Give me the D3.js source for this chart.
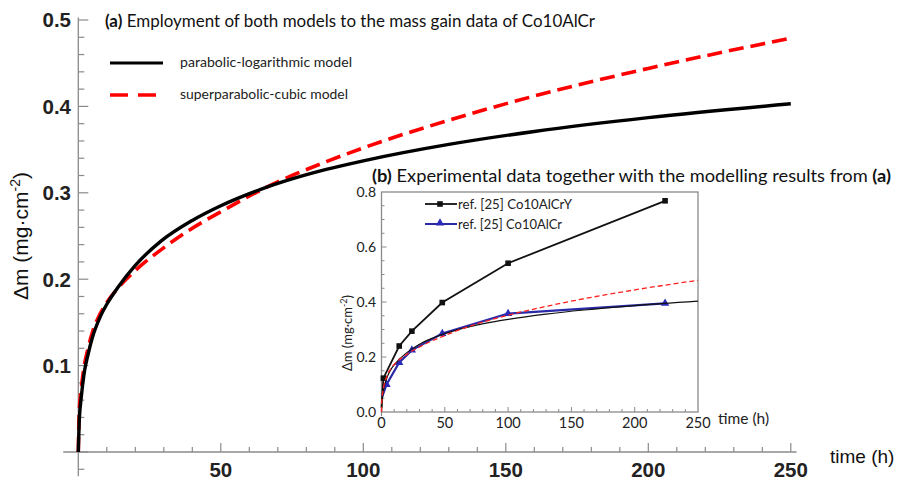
<!DOCTYPE html>
<html><head><meta charset="utf-8">
<script src="https://cdn.jsdelivr.net/npm/d3@7"></script>
<style>body{margin:0;background:#fff}svg{display:block}</style>
</head><body>
<script>
// ---- data ----
const modelT = [0, 0.3, 1, 2, 3.5, 5, 7.5, 10, 14, 20, 29, 40, 50, 64, 75, 87, 100, 130, 160, 200, 250];
const parabolicLog = [0, 0.033, 0.062, 0.090, 0.114, 0.133, 0.155, 0.171, 0.191, 0.216, 0.244, 0.268, 0.285, 0.304, 0.316, 0.327, 0.337, 0.356, 0.371, 0.387, 0.403];
const superparabolicCubic = [0, 0.045, 0.072, 0.098, 0.121, 0.139, 0.159, 0.173, 0.190, 0.210, 0.234, 0.259, 0.278, 0.303, 0.320, 0.336, 0.352, 0.384, 0.412, 0.444, 0.479];
const expYT = [0, 1.5, 14, 24, 48, 100, 224];
const expYV = [0.015, 0.123, 0.24, 0.294, 0.398, 0.541, 0.768];
const expT = [0.5, 4, 14, 24, 48, 100, 224];
const expV = [0.055, 0.10, 0.18, 0.225, 0.285, 0.358, 0.395];
const mainXTicks = [50, 100, 150, 200, 250];
const mainYTicks = [0.1, 0.2, 0.3, 0.4, 0.5];
const insetXTicks = [0, 50, 100, 150, 200, 250];
const insetYTicks = [0.0, 0.2, 0.4, 0.6, 0.8];

const W = 897, H = 480;
const svg = d3.select("body").append("svg").attr("width", W).attr("height", H);
svg.append("rect").attr("width", W).attr("height", H).attr("fill", "#fff");

const axisCol = "#8a8a8a";
const sans = "'Liberation Sans', Arial, sans-serif";
const cal = "Lato, 'Open Sans', sans-serif";

// ---- main scales ----
const x = d3.scaleLinear().domain([0, 250]).range([78.3, 790.8]);
const y = d3.scaleLinear().domain([0, 0.5]).range([452, 20]);

const gAx = svg.append("g");
gAx.append("line").attr("x1", x(-5.3)).attr("x2", x(252)).attr("y1", y(0)).attr("y2", y(0))
  .attr("stroke", axisCol).attr("stroke-width", 1.3);
gAx.append("line").attr("x1", x(0)).attr("x2", x(0)).attr("y1", y(-0.028)).attr("y2", y(0.503))
  .attr("stroke", axisCol).attr("stroke-width", 1.3);
d3.range(10, 251, 10).forEach(t => {
  const major = t % 50 === 0;
  gAx.append("line").attr("x1", x(t)).attr("x2", x(t)).attr("y1", y(0)).attr("y2", y(0) - (major ? 9 : 5))
    .attr("stroke", axisCol).attr("stroke-width", 1.2);
});
d3.range(-0.02, 0.5001, 0.02).forEach(v => {
  const major = Math.abs(Math.round(v * 10) - v * 10) < 1e-6;
  gAx.append("line").attr("x1", x(0)).attr("x2", x(0) + (major ? 10 : 6)).attr("y1", y(v)).attr("y2", y(v))
    .attr("stroke", axisCol).attr("stroke-width", 1.2);
});
gAx.selectAll(".xl").data(mainXTicks).join("text")
  .attr("x", d => x(d)).attr("y", 477).attr("text-anchor", "middle")
  .attr("font-family", sans).attr("font-weight", "bold").attr("font-size", 20.5).attr("fill", "#222")
  .text(d => d);
gAx.selectAll(".yl").data(mainYTicks).join("text")
  .attr("x", 71).attr("y", d => y(d)).attr("dy", "0.36em").attr("text-anchor", "end")
  .attr("font-family", sans).attr("font-weight", "bold").attr("font-size", 20.5).attr("fill", "#222")
  .text(d => d3.format(".1f")(d));
svg.append("text").attr("x", 830).attr("y", 463).attr("font-family", sans).attr("font-size", 19).attr("fill", "#111")
  .text("time (h)");
const yl = svg.append("text").attr("transform", "translate(28,236) rotate(-90)").attr("text-anchor", "middle")
  .attr("font-family", sans).attr("font-size", 21).attr("fill", "#111");
yl.append("tspan").text("Δm (mg·cm");
yl.append("tspan").attr("dy", -8).attr("font-size", 14).text("-2");
yl.append("tspan").attr("dy", 8).text(")");

// main curves
const mainLine = d3.line().x(d => x(d[0])).y(d => y(d[1])).curve(d3.curveMonotoneX);
const plData = modelT.map((t, i) => [t, parabolicLog[i]]);
const spData = modelT.map((t, i) => [t, superparabolicCubic[i]]);
svg.append("path").attr("d", mainLine(spData)).attr("fill", "none").attr("stroke", "#ff0000")
  .attr("stroke-width", 3.6).attr("stroke-dasharray", "15,7");
svg.append("path").attr("d", mainLine(plData)).attr("fill", "none").attr("stroke", "#000")
  .attr("stroke-width", 3.4);

// title (a)
const ta = svg.append("text").attr("x", 105).attr("y", 27).attr("font-family", cal).attr("font-size", 17)
  .attr("fill", "#111").attr("textLength", 490).attr("lengthAdjust", "spacingAndGlyphs");
ta.append("tspan").attr("font-weight", "bold").text("(a)");
ta.append("tspan").text(" Employment of both models to the mass gain data of Co10AlCr");

// legend (a)
svg.append("line").attr("x1", 110).attr("x2", 163).attr("y1", 63).attr("y2", 63).attr("stroke", "#000").attr("stroke-width", 3);
svg.append("line").attr("x1", 110).attr("x2", 166).attr("y1", 95).attr("y2", 95).attr("stroke", "#ff0000")
  .attr("stroke-width", 3.6).attr("stroke-dasharray", "18,10");
svg.append("text").attr("x", 180).attr("y", 67).attr("font-family", cal).attr("font-size", 14).attr("fill", "#222")
  .attr("textLength", 172).attr("lengthAdjust", "spacingAndGlyphs").text("parabolic-logarithmic model");
svg.append("text").attr("x", 180).attr("y", 99).attr("font-family", cal).attr("font-size", 14).attr("fill", "#222")
  .attr("textLength", 168).attr("lengthAdjust", "spacingAndGlyphs").text("superparabolic-cubic model");

// ---- inset ----
const xi = d3.scaleLinear().domain([0, 250]).range([381.5, 698]);
const yi = d3.scaleLinear().domain([0, 0.8]).range([412, 192]);
const gi = svg.append("g");
gi.append("rect").attr("x", xi(0)).attr("y", yi(0.8)).attr("width", xi(250) - xi(0)).attr("height", yi(0) - yi(0.8))
  .attr("fill", "#fff").attr("stroke", axisCol).attr("stroke-width", 1.3);
gi.append("line").attr("x1", xi(0)).attr("x2", xi(0)).attr("y1", yi(0)).attr("y2", yi(-0.015)).attr("stroke", axisCol).attr("stroke-width", 1.2);
d3.range(10, 250, 10).forEach(t => {
  const major = t % 50 === 0;
  gi.append("line").attr("x1", xi(t)).attr("x2", xi(t)).attr("y1", yi(0)).attr("y2", yi(0) - (major ? 5 : 3))
    .attr("stroke", axisCol).attr("stroke-width", 1);
});
d3.range(0.05, 0.8, 0.05).forEach(v => {
  const major = Math.abs(Math.round(v * 5) - v * 5) < 1e-6;
  gi.append("line").attr("x1", xi(0)).attr("x2", xi(0) + (major ? 5 : 3)).attr("y1", yi(v)).attr("y2", yi(v))
    .attr("stroke", axisCol).attr("stroke-width", 1);
});
gi.selectAll(".ixl").data(insetXTicks).join("text")
  .attr("x", d => xi(d)).attr("y", 428).attr("text-anchor", "middle")
  .attr("font-family", cal).attr("font-size", 14.5).attr("fill", "#222").text(d => d);
gi.selectAll(".iyl").data(insetYTicks).join("text")
  .attr("x", 376).attr("y", d => yi(d)).attr("dy", "0.36em").attr("text-anchor", "end")
  .attr("font-family", cal).attr("font-size", 14).attr("fill", "#222").text(d => d3.format(".1f")(d));
gi.append("text").attr("x", 718).attr("y", 424).attr("font-family", cal).attr("font-size", 15.5).attr("fill", "#222").text("time (h)");
const iyl = gi.append("text").attr("transform", "translate(352,333) rotate(-90)").attr("text-anchor", "middle")
  .attr("font-family", cal).attr("font-size", 13).attr("fill", "#222");
iyl.append("tspan").text("Δm (mg·cm");
iyl.append("tspan").attr("dy", -5).attr("font-size", 9).text("-2");
iyl.append("tspan").attr("dy", 5).text(")");

// inset data lines
const iLine = d3.line().x(d => xi(d[0])).y(d => yi(d[1]));
const yData = expYT.map((t, i) => [t, expYV[i]]);
const bData = expT.map((t, i) => [t, expV[i]]);
gi.append("path").attr("d", iLine(yData)).attr("fill", "none").attr("stroke", "#111").attr("stroke-width", 1.8);
gi.selectAll(".sq").data(yData.filter(d => d[0] > 0)).join("rect")
  .attr("x", d => xi(d[0]) - 2.8).attr("y", d => yi(d[1]) - 2.8).attr("width", 5.6).attr("height", 5.6).attr("fill", "#111");
gi.append("path").attr("d", iLine(bData)).attr("fill", "none").attr("stroke", "#2a2aa8").attr("stroke-width", 2.2);
const tri = d3.symbol().type(d3.symbolTriangle).size(30);
gi.selectAll(".tr").data(bData.filter(d => d[0] > 1)).join("path")
  .attr("d", tri).attr("transform", d => `translate(${xi(d[0])},${yi(d[1])})`).attr("fill", "#2a2ab8");
const iCurve = d3.line().x(d => xi(d[0])).y(d => yi(d[1])).curve(d3.curveMonotoneX);
gi.append("path").attr("d", iCurve(plData)).attr("fill", "none").attr("stroke", "#111").attr("stroke-width", 1.2);
gi.append("path").attr("d", iCurve(spData)).attr("fill", "none").attr("stroke", "#ff2020").attr("stroke-width", 1.3).attr("stroke-dasharray", "5,3");

// inset legend
gi.append("line").attr("x1", 425).attr("x2", 457).attr("y1", 204).attr("y2", 204).attr("stroke", "#111").attr("stroke-width", 1.8);
gi.append("rect").attr("x", 440 - 2.8).attr("y", 204 - 2.8).attr("width", 5.6).attr("height", 5.6).attr("fill", "#111");
gi.append("line").attr("x1", 425).attr("x2", 457).attr("y1", 224).attr("y2", 224).attr("stroke", "#2a2aa8").attr("stroke-width", 2);
gi.append("path").attr("d", tri).attr("transform", "translate(440,223)").attr("fill", "#2a2ab8");
gi.append("text").attr("x", 458).attr("y", 209).attr("font-family", cal).attr("font-size", 14).attr("fill", "#222")
  .attr("textLength", 114).attr("lengthAdjust", "spacingAndGlyphs").text("ref. [25] Co10AlCrY");
gi.append("text").attr("x", 458).attr("y", 229).attr("font-family", cal).attr("font-size", 14).attr("fill", "#222")
  .attr("textLength", 104).attr("lengthAdjust", "spacingAndGlyphs").text("ref. [25] Co10AlCr");

// title (b)
const tb = svg.append("text").attr("x", 372).attr("y", 182).attr("font-family", cal).attr("font-size", 17)
  .attr("fill", "#111").attr("textLength", 519).attr("lengthAdjust", "spacingAndGlyphs");
tb.append("tspan").attr("font-weight", "bold").text("(b)");
tb.append("tspan").text(" Experimental data together with the modelling results from ");
tb.append("tspan").attr("font-weight", "bold").text("(a)");
</script>
</body></html>
